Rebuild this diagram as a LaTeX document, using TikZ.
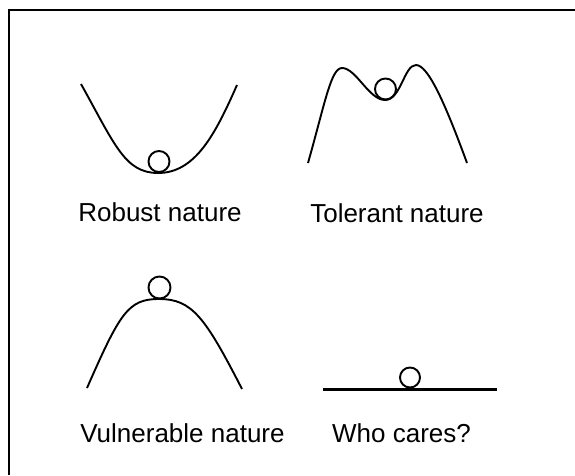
\documentclass[tikz,border=0pt]{standalone}
\usepackage{fontspec}
\setmainfont{Liberation Sans}
\usetikzlibrary{calc}

\begin{document}
\begin{tikzpicture}[x=1pt,y=1pt,line width=1.9pt]
 \useasboundingbox (0,0) rectangle (575,475);
 % frame
  \coordinate (F0) at (9,0);
  \coordinate (F1) at (575,465);
 \draw[line width=1.6pt] (F0) |- (F1);

 % robust
  \coordinate (RbA) at (81,391);
  \coordinate (RbB) at (158,302);
  \coordinate (RbC) at (237,390);
  \coordinate (RbO) at (159,313.5);
 \draw (RbA) .. controls (115,330) and (125,302) .. (RbB)
   .. controls (195,302) and (215,340) .. (RbC);
 \draw (RbO) circle (10.5);
 \node[anchor=base, font=\fontsize{26}{30}\selectfont] (robust) at (160,254) {Robust nature};

 % tolerant
  \coordinate (TlA) at (308,312);
  \coordinate (TlB) at (342,407);
  \coordinate (TlC) at (385,375);
  \coordinate (TlD) at (416,410);
  \coordinate (TlE) at (467,312);
  \coordinate (TlO) at (385.5,386);
 \draw (TlA) .. controls (325,372) and (331,407) .. (TlB)
   .. controls (356,407) and (369,375) .. (TlC)
   .. controls (401,375) and (404,410) .. (TlD)
   .. controls (428,410) and (445,372) .. (TlE);
 \draw (TlO) circle (10.5);
 \node[anchor=base, font=\fontsize{26}{30}\selectfont] (tolerant) at (397,253) {Tolerant nature};

 % vulnerable
  \coordinate (VuA) at (87,87);
  \coordinate (VuB) at (159,176);
  \coordinate (VuC) at (242,86);
  \coordinate (VuO) at (159.5,187.5);
 \draw (VuA) .. controls (120,162) and (128,176) .. (VuB)
   .. controls (192,176) and (205,158) .. (VuC);
 \draw (VuO) circle (11);
 \node[anchor=base, font=\fontsize{26}{30}\selectfont] (vulnerable) at (182.5,33) {Vulnerable nature};

 % who cares
  \coordinate (WcA) at (323,86);
  \coordinate (WcB) at (497,86);
  \coordinate (WcO) at (410,97.5);
 \draw[line width=3pt] (WcA) -- (WcB);
 \draw (WcO) circle (10);
 \node[anchor=base, font=\fontsize{26}{30}\selectfont] (whocares) at (401.5,33) {Who cares?};
\end{tikzpicture}
\end{document}
